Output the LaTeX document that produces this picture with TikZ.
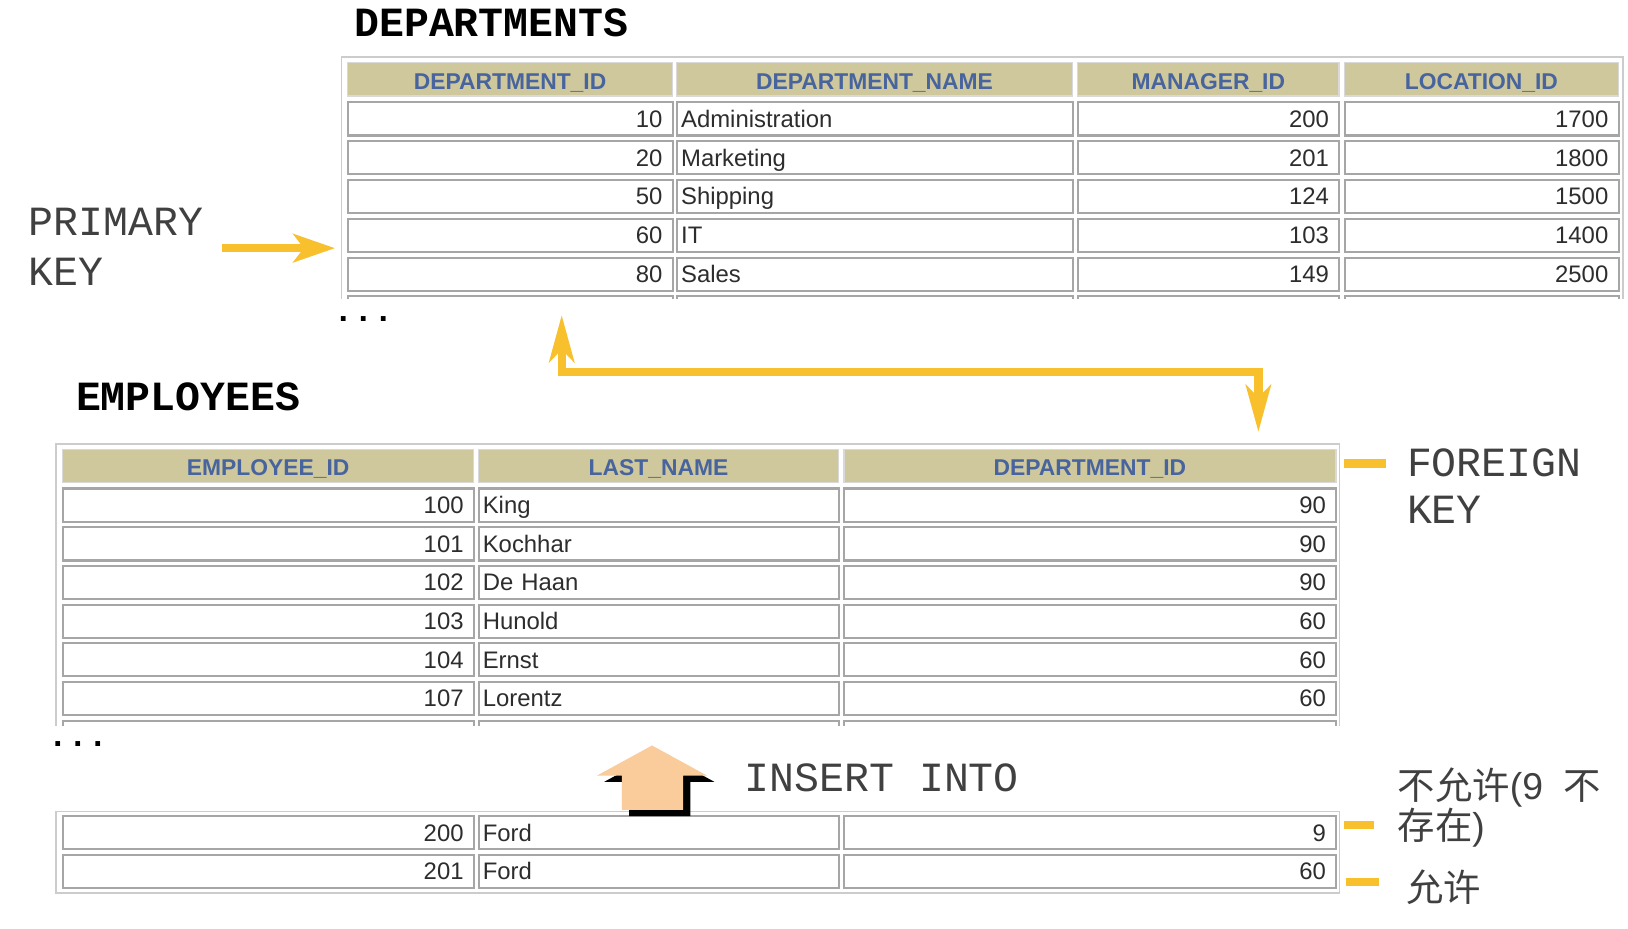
\documentclass[tikz,border=0pt]{standalone}
\usepackage{fontspec}
\newfontfamily\cellfamily{Liberation Sans}
\newfontfamily\keyfamily{Liberation Mono}
\newfontfamily\cjkfamily{Noto Sans CJK SC}
\usetikzlibrary{arrows.meta}
\definecolor{keyyellow}{RGB}{248,192,45}
\definecolor{headtan}{RGB}{206,200,156}
\definecolor{headblue}{RGB}{72,100,158}
\definecolor{celltext}{RGB}{45,45,45}
\definecolor{insertpeach}{RGB}{250,204,156}

\begin{document}
\begin{tikzpicture}[x=1pt, y=-1pt,
    hdcell/.style={draw=black!15, line width=1.5pt, fill=headtan, text=headblue,
        font=\cellfamily\bfseries\fontsize{22}{26}\selectfont, minimum width=#1,
        minimum height=32pt, inner sep=0pt, text height=19pt, text depth=0pt, anchor=north west},
    numcell/.style={draw=black!35, line width=2pt, fill=white, text=celltext,
        font=\cellfamily\fontsize{23}{27}\selectfont, text width=#1, align=right,
        inner xsep=10pt, inner ysep=0pt, minimum height=32pt, text height=16pt, text depth=0pt,
        anchor=north west},
    txtcell/.style={numcell=#1, align=left, inner xsep=4pt},
    tableframe/.style={draw=black!20, line width=1.5pt},
    title/.style={font=\keyfamily\bfseries\fontsize{40}{48}\selectfont, anchor=base west, inner sep=0pt},
    keytext/.style={font=\keyfamily\fontsize{40}{48}\selectfont, text=black!75, align=left, anchor=base west, inner sep=0pt},
    cjktext/.style={font=\cjkfamily\fontsize{36}{37}\selectfont, text=black!75, align=left, anchor=base west, inner sep=0pt},
    dots/.style={font=\keyfamily\bfseries\fontsize{32}{36}\selectfont, anchor=base west, inner sep=0pt},
    keyarrow/.style={draw=keyyellow, line width=8pt},
    keymark/.style={draw=keyyellow, line width=8pt}]
    \path[use as bounding box, fill=white] (0,0) rectangle (1568,894);

    \node[title] (dtitle) at (341,35.3) {DEPARTMENTS};
    \node[title] (etitle) at (73,395) {EMPLOYEES};

    \begin{scope}
        \clip (320,45) rectangle (1570,287.5);
        \draw[tableframe] (329,300) |- (1563,55) -- (1563,300);
        \node[hdcell=313pt] (d0a) at (334,59.5) {DEPARTMENT\_ID};
        \node[hdcell=381pt] (d0b) at (651,59.5) {DEPARTMENT\_NAME};
        \node[hdcell=252pt] (d0c) at (1037,59.5) {MANAGER\_ID};
        \node[hdcell=264pt] (d0d) at (1294,59.5) {LOCATION\_ID};
        \node[numcell=293pt] (d1a) at (334,97.5) {10};
        \node[txtcell=373pt] (d1b) at (651,97.5) {Administration};
        \node[numcell=232pt] (d1c) at (1037,97.5) {200};
        \node[numcell=244pt] (d1d) at (1294,97.5) {1700};
        \node[numcell=293pt] (d2a) at (334,134.9) {20};
        \node[txtcell=373pt] (d2b) at (651,134.9) {Marketing};
        \node[numcell=232pt] (d2c) at (1037,134.9) {201};
        \node[numcell=244pt] (d2d) at (1294,134.9) {1800};
        \node[numcell=293pt] (d3a) at (334,172.3) {50};
        \node[txtcell=373pt] (d3b) at (651,172.3) {Shipping};
        \node[numcell=232pt] (d3c) at (1037,172.3) {124};
        \node[numcell=244pt] (d3d) at (1294,172.3) {1500};
        \node[numcell=293pt] (d4a) at (334,209.7) {60};
        \node[txtcell=373pt] (d4b) at (651,209.7) {IT};
        \node[numcell=232pt] (d4c) at (1037,209.7) {103};
        \node[numcell=244pt] (d4d) at (1294,209.7) {1400};
        \node[numcell=293pt] (d5a) at (334,247.1) {80};
        \node[txtcell=373pt] (d5b) at (651,247.1) {Sales};
        \node[numcell=232pt] (d5c) at (1037,247.1) {149};
        \node[numcell=244pt] (d5d) at (1294,247.1) {2500};
        \node[numcell=293pt] (d6a) at (334,284.5) {};
        \node[txtcell=373pt] (d6b) at (651,284.5) {};
        \node[numcell=232pt] (d6c) at (1037,284.5) {};
        \node[numcell=244pt] (d6d) at (1294,284.5) {};
    \end{scope}
    \node[dots] (ddots) at (321,310) {...};

    \begin{scope}
        \clip (45,420) rectangle (1300,698.5);
        \draw[tableframe] (54,710) |- (1290,427.7) -- (1290,710);
        \node[hdcell=396pt] (e0a) at (59.5,432) {EMPLOYEE\_ID};
        \node[hdcell=347pt] (e0b) at (460,432) {LAST\_NAME};
        \node[hdcell=474pt] (e0c) at (812,432) {DEPARTMENT\_ID};
        \node[numcell=376pt] (e1a) at (59.5,469.5) {100};
        \node[txtcell=339pt] (e1b) at (460,469.5) {King};
        \node[numcell=454pt] (e1c) at (812,469.5) {90};
        \node[numcell=376pt] (e2a) at (59.5,506.8) {101};
        \node[txtcell=339pt] (e2b) at (460,506.8) {Kochhar};
        \node[numcell=454pt] (e2c) at (812,506.8) {90};
        \node[numcell=376pt] (e3a) at (59.5,544) {102};
        \node[txtcell=339pt] (e3b) at (460,544) {De Haan};
        \node[numcell=454pt] (e3c) at (812,544) {90};
        \node[numcell=376pt] (e4a) at (59.5,581.3) {103};
        \node[txtcell=339pt] (e4b) at (460,581.3) {Hunold};
        \node[numcell=454pt] (e4c) at (812,581.3) {60};
        \node[numcell=376pt] (e5a) at (59.5,618.5) {104};
        \node[txtcell=339pt] (e5b) at (460,618.5) {Ernst};
        \node[numcell=454pt] (e5c) at (812,618.5) {60};
        \node[numcell=376pt] (e6a) at (59.5,655.8) {107};
        \node[txtcell=339pt] (e6b) at (460,655.8) {Lorentz};
        \node[numcell=454pt] (e6c) at (812,655.8) {60};
        \node[numcell=376pt] (e7a) at (59.5,693.1) {};
        \node[txtcell=339pt] (e7b) at (460,693.1) {};
        \node[numcell=454pt] (e7c) at (812,693.1) {};
    \end{scope}
    \node[dots] (edots) at (46,718.5) {...};

    \draw[tableframe] (54,781.5) rectangle (1290,860);
    \node[numcell=376pt] (n1a) at (59.5,785) {200};
    \node[txtcell=339pt] (n1b) at (460,785) {Ford};
    \node[numcell=454pt] (n1c) at (812,785) {9};
    \node[numcell=376pt] (n2a) at (59.5,822.5) {201};
    \node[txtcell=339pt] (n2b) at (460,822.5) {Ford};
    \node[numcell=454pt] (n2c) at (812,822.5) {60};

    \node[keytext] (pk) at (27.5,274.6) {PRIMARY\\KEY};
    \node[keytext, font=\keyfamily\fontsize{40}{45}\selectfont] (fk) at (1355,504) {FOREIGN\\KEY};
    \node[keytext] (ins) at (717,762.7) {INSERT INTO};
    \node[cjktext] (deny) at (1346,808.5) {不允许{\cellfamily(9}\hspace{20pt}不\\存在{\cellfamily)}};
    \node[cjktext] (allow) at (1354,868) {允许};

    \coordinate (pktail) at (213.6,239);
    \coordinate (pkhead) at (322.7,239);
    \coordinate (fkup) at (541,303.5);
    \coordinate (fkdown) at (1212,416);
    \coordinate (fkmark) at (1294,446.4);
    \coordinate (denymark) at (1294,794.8);
    \coordinate (allowmark) at (1296,849.4);

    \draw[keyarrow, -{Stealth[length=40pt, width=27pt, inset=10pt]}] (pktail) -- (pkhead);
    \draw[keyarrow, {Stealth[length=45pt, width=24pt, inset=12pt]}-{Stealth[length=45pt, width=24pt, inset=12pt]}]
        (fkup) -- ++(0,54.5) -| (fkdown);
    \draw[keymark] (fkmark) -- ++(41,0);
    \draw[keymark] (denymark) -- ++(29,0);
    \draw[keymark] (allowmark) -- ++(32,0);

    \fill[black] (582,753) -- (635,724) -- (688,753) -- (665,753) -- (665,786) -- (606,786) -- (606,753) -- cycle;
    \fill[insertpeach] (575,747) -- (628,718) -- (681,747) -- (658,747) -- (658,780) -- (599,780) -- (599,747) -- cycle;
\end{tikzpicture}
\end{document}
